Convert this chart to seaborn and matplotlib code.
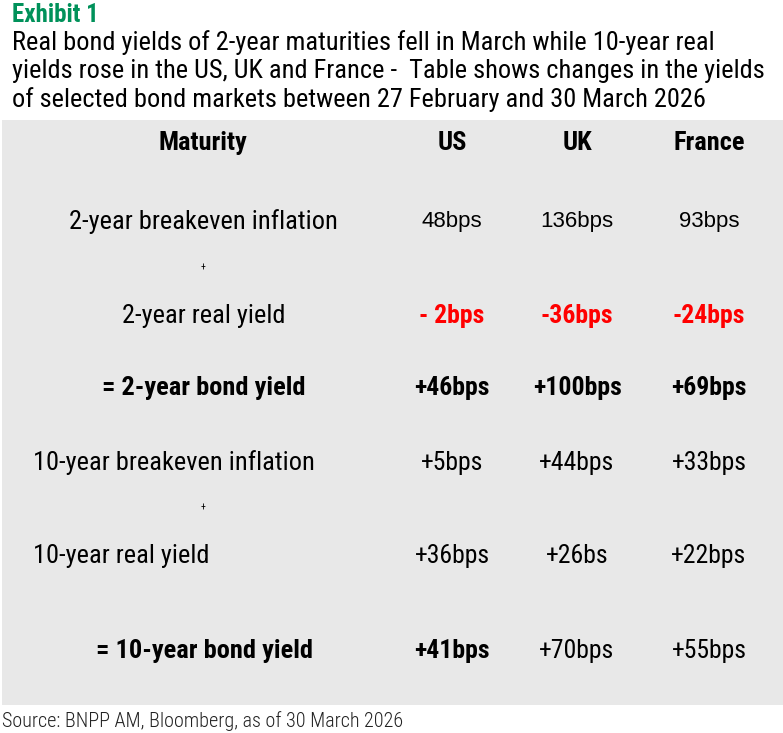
import matplotlib
matplotlib.use("Agg")
import matplotlib.pyplot as plt
from matplotlib import font_manager
import seaborn as sns

sns.set_style("white")

# pick a narrow face if one is installed
names = {(f.name, f.stretch) for f in font_manager.fontManager.ttflist}
stretch = "normal"
face = "DejaVu Sans"
for cand in ["Roboto Condensed", "Liberation Sans Narrow", "Open Sans Condensed",
             "Noto Sans Condensed"]:
    if any(n == cand for n, s in names):
        face = cand
        break
else:
    if any(n == "DejaVu Sans" and s in ("condensed", "semi-condensed") for n, s in names):
        stretch = "condensed"
narrow = [face, "DejaVu Sans"]
plt.rcParams["font.family"] = narrow
plt.rcParams["font.stretch"] = stretch
plt.rcParams["text.color"] = "black"

# Table content
countries = ["US", "UK", "France"]
row_labels = ["2-year breakeven inflation", "2-year real yield", "= 2-year bond yield",
              "10-year breakeven inflation", "10-year real yield", "= 10-year bond yield"]
us_vals = ["48bps", "- 2bps", "+46bps", "+5bps", "+36bps", "+41bps"]
uk_vals = ["136bps", "-36bps", "+100bps", "+44bps", "+26bs", "+70bps"]
fr_vals = ["93bps", "-24bps", "+69bps", "+33bps", "+22bps", "+55bps"]

# Layout (pixel units of the table box)
row_y = [222, 316, 388, 463, 556, 651]
label_x = [203, 204, 204, 33, 33, 204]
label_ha = ["center", "center", "center", "left", "left", "center"]
label_bold = [False, False, True, False, False, True]
col_x = [452, 577, 709]
val_colors = ["black", "red", "black", "black", "black", "black"]
val_bold = [[False] * 3, [True] * 3, [True, True, True], [False] * 3, [False] * 3,
            [True, False, False]]
plus_y = [268, 508]

fig = plt.figure(figsize=(7.83, 7.33), dpi=100)
W, H = 783, 733
ax = fig.add_axes([2 / W, (H - 705) / H, 781 / W, (705 - 120) / H])
ax.set_facecolor("#e8e8e8")
ax.set_xlim(2, 783)
ax.set_ylim(705, 120)
ax.set_xticks([])
ax.set_yticks([])
sns.despine(ax=ax, left=True, bottom=True)

ax.text(203, 143, "Maturity", ha="center", va="center", fontsize=19, fontweight="bold")
for x, c in zip(col_x, countries):
    ax.text(x, 143, c, ha="center", va="center", fontsize=19, fontweight="bold")

for i, lab in enumerate(row_labels):
    ax.text(label_x[i], row_y[i], lab, ha=label_ha[i], va="center", fontsize=19,
            fontweight="bold" if label_bold[i] else "normal")
    for j, vals in enumerate([us_vals, uk_vals, fr_vals]):
        if i == 0:
            ax.text(col_x[j], row_y[i] - 1, vals[i], ha="center", va="center", fontsize=16,
                    family=["Liberation Sans", "DejaVu Sans"], fontstretch="normal")
        else:
            ax.text(col_x[j], row_y[i], vals[i], ha="center", va="center", fontsize=18.5,
                    color=val_colors[i],
                    fontweight="bold" if val_bold[i][j] else "normal")

for y in plus_y:
    ax.text(203, y, "+", ha="center", va="center", fontsize=7)

fig.text(12 / W, 1 - 15 / H, "Exhibit 1", ha="left", va="center", fontsize=18,
         fontweight="bold", color="#00915a")
title_lines = ["Real bond yields of 2-year maturities fell in March while 10-year real",
               "yields rose in the US, UK and France -  Table shows changes in the yields",
               "of selected bond markets between 27 February and 30 March 2026"]
for y, line in zip([43, 71, 100], title_lines):
    fig.text(12 / W, 1 - y / H, line, ha="left", va="center", fontsize=19)
fig.text(2 / W, 1 - 721 / H, "Source: BNPP AM, Bloomberg, as of 30 March 2026",
         ha="left", va="center", fontsize=14.5, fontweight="light", color="#222222")

fig.savefig("out.png", dpi=100)
